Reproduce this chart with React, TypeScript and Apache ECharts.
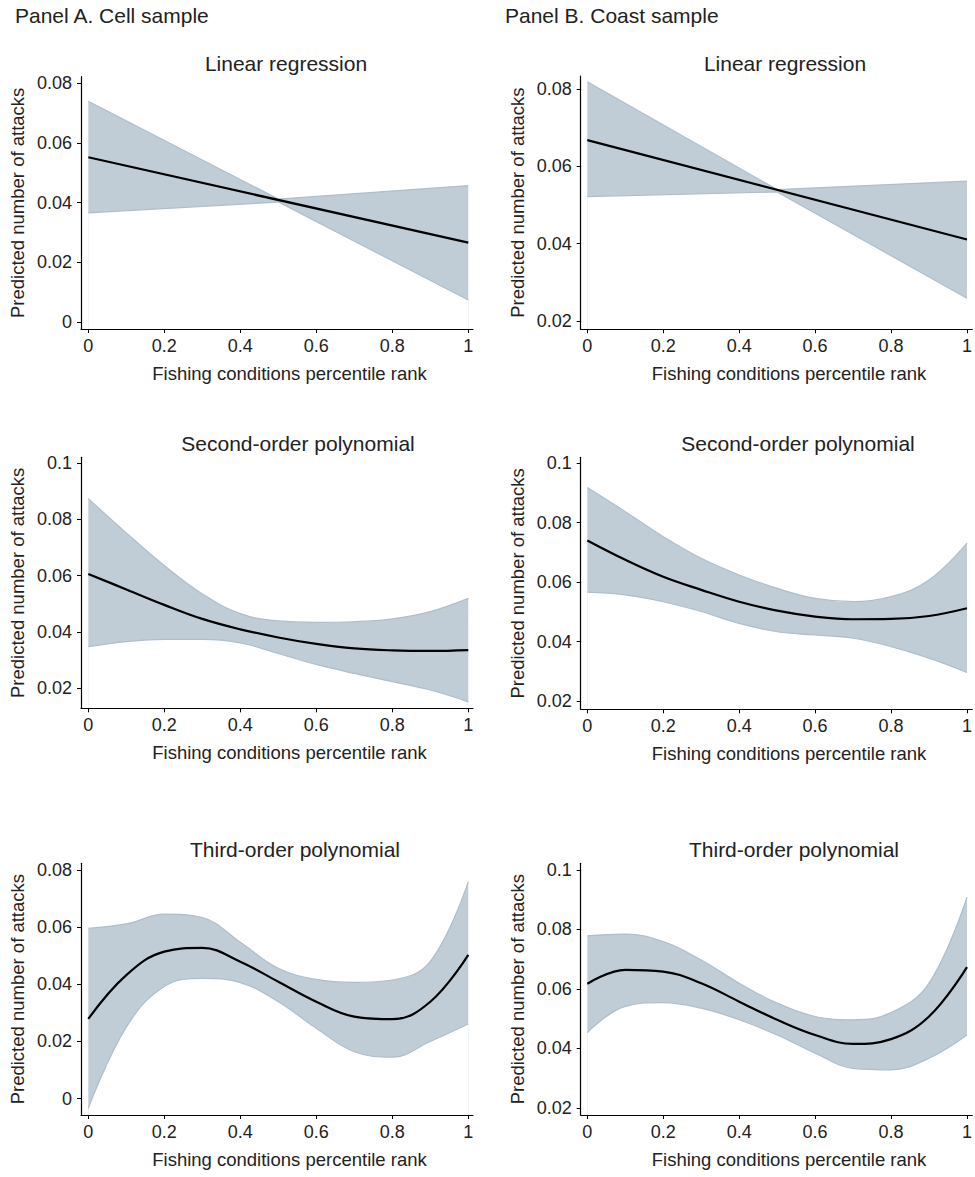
import React, { useEffect, useRef } from "react";
import * as echarts from "echarts";

// ---------- data ----------
const xFitLinear = [0, 1];
const xBandLinear = [0, 0.5, 1];
const xPoly = [0, 0.1, 0.2, 0.3, 0.4, 0.5, 0.6, 0.7, 0.8, 0.9, 1];

const xTicks = [0, 0.2, 0.4, 0.6, 0.8, 1];
const yTicksA1 = [0, 0.02, 0.04, 0.06, 0.08];
const yTicksB1 = [0.02, 0.04, 0.06, 0.08];
const yTicksPoly = [0.02, 0.04, 0.06, 0.08, 0.1];
const yTicksA3 = [0, 0.02, 0.04, 0.06, 0.08];

// Panel A (cell sample)
const cellLinearFit = [0.0552, 0.0266];
const cellLinearUpper = [0.074, 0.0412, 0.0457];
const cellLinearLower = [0.0366, 0.0402, 0.0074];

const cellQuadFit = [0.0606, 0.0551, 0.0496, 0.0446, 0.0409, 0.038, 0.0357, 0.0341, 0.0334, 0.0332, 0.0335];
const cellQuadUpper = [0.0874, 0.0752, 0.0636, 0.0535, 0.0465, 0.0439, 0.0434, 0.0436, 0.0446, 0.0472, 0.0519];
const cellQuadLower = [0.0347, 0.0365, 0.0373, 0.0373, 0.0361, 0.0323, 0.0284, 0.0252, 0.0223, 0.0193, 0.0151];

const cellCubicFit = [0.0279, 0.0432, 0.0514, 0.0527, 0.0479, 0.0409, 0.0339, 0.0287, 0.0278, 0.0339, 0.0503];
const cellCubicUpper = [0.0596, 0.0611, 0.0645, 0.0633, 0.0547, 0.0456, 0.0417, 0.0407, 0.0415, 0.048, 0.0759];
const cellCubicLower = [-0.0034, 0.025, 0.0392, 0.0421, 0.0406, 0.0339, 0.0246, 0.0164, 0.0145, 0.02, 0.0261];

// Panel B (coast sample)
const coastLinearFit = [0.0668, 0.0411];
const coastLinearUpper = [0.0819, 0.054, 0.0562];
const coastLinearLower = [0.0522, 0.0534, 0.0259];

const coastQuadFit = [0.074, 0.0675, 0.0618, 0.0574, 0.0534, 0.0504, 0.0484, 0.0475, 0.0476, 0.0486, 0.0512];
const coastQuadUpper = [0.0918, 0.0837, 0.0753, 0.068, 0.0624, 0.0579, 0.0545, 0.0534, 0.0551, 0.0607, 0.0731];
const coastQuadLower = [0.0566, 0.0557, 0.0534, 0.0501, 0.0461, 0.0433, 0.0422, 0.0411, 0.0383, 0.0344, 0.0296];

const coastCubicFit = [0.0617, 0.0664, 0.0658, 0.0619, 0.0557, 0.0496, 0.0445, 0.0415, 0.0431, 0.0507, 0.0673];
const coastCubicUpper = [0.0778, 0.0784, 0.0759, 0.0697, 0.0619, 0.0552, 0.0507, 0.0496, 0.052, 0.0619, 0.0908];
const coastCubicLower = [0.0453, 0.0541, 0.0554, 0.0535, 0.0496, 0.0445, 0.0384, 0.0333, 0.0328, 0.0367, 0.0445];

const panelHeaders = ["Panel A. Cell sample", "Panel B. Coast sample"];
const subTitles = ["Linear regression", "Second-order polynomial", "Third-order polynomial"];
const xAxisTitle = "Fishing conditions percentile rank";
const yAxisTitle = "Predicted number of attacks";

// ---------- styling / layout ----------
const FONT = "'Liberation Sans', Arial, Helvetica, sans-serif";
const TEXT = "#222222";
const BAND_FILL = "#c1cdd6";
const BAND_EDGE = "#aebecb";

const colLeft = [81, 580.7];
const colXMin = [-0.0192, -0.0174];
const GRID_W = 392;
const PX_PER_X = 380;

const panels = [
  { col: 0, top: 76.7, bottom: 329, ymin: -0.00234, ymax: 0.0822, yTicks: yTicksA1, xFit: xFitLinear, fit: cellLinearFit, xBand: xBandLinear, upper: cellLinearUpper, lower: cellLinearLower, smooth: false, title: subTitles[0], tx: 286, ty: 63 },
  { col: 1, top: 76, bottom: 329.3, ymin: 0.01785, ymax: 0.0834, yTicks: yTicksB1, xFit: xFitLinear, fit: coastLinearFit, xBand: xBandLinear, upper: coastLinearUpper, lower: coastLinearLower, smooth: false, title: subTitles[0], tx: 785, ty: 63 },
  { col: 0, top: 457.3, bottom: 708.3, ymin: 0.0128, ymax: 0.1021, yTicks: yTicksPoly, xFit: xPoly, fit: cellQuadFit, xBand: xPoly, upper: cellQuadUpper, lower: cellQuadLower, smooth: true, title: subTitles[1], tx: 298, ty: 443.5 },
  { col: 1, top: 457.3, bottom: 709.3, ymin: 0.0172, ymax: 0.102, yTicks: yTicksPoly, xFit: xPoly, fit: coastQuadFit, xBand: xPoly, upper: coastQuadUpper, lower: coastQuadLower, smooth: true, title: subTitles[1], tx: 798, ty: 443.5 },
  { col: 0, top: 863.3, bottom: 1115, ymin: -0.0057, ymax: 0.0823, yTicks: yTicksA3, xFit: xPoly, fit: cellCubicFit, xBand: xPoly, upper: cellCubicUpper, lower: cellCubicLower, smooth: true, title: subTitles[2], tx: 295, ty: 849 },
  { col: 1, top: 863.3, bottom: 1115, ymin: 0.0176, ymax: 0.1022, yTicks: yTicksPoly, xFit: xPoly, fit: coastCubicFit, xBand: xPoly, upper: coastCubicUpper, lower: coastCubicLower, smooth: true, title: subTitles[2], tx: 794, ty: 849 },
];

const fmt = (v: number) => String(parseFloat(Number(v).toFixed(3)));

function buildOption() {
  const grid: any[] = [];
  const xAxis: any[] = [];
  const yAxis: any[] = [];
  const series: any[] = [];
  const graphic: any[] = [];

  panels.forEach((p, i) => {
    const xmin = colXMin[p.col];
    grid.push({ left: colLeft[p.col], top: p.top, width: GRID_W, height: p.bottom - p.top, containLabel: false });
    xAxis.push({
      type: "value",
      gridIndex: i,
      min: xmin,
      max: xmin + GRID_W / PX_PER_X,
      z: 10,
      splitLine: { show: false },
      axisLine: { show: true, onZero: false, lineStyle: { color: "#000", width: 1.2 } },
      axisTick: { show: true, length: 4, customValues: xTicks, lineStyle: { color: "#000", width: 1 } },
      axisLabel: { customValues: xTicks, formatter: fmt, color: TEXT, fontSize: 18, fontFamily: FONT, margin: 8 },
      name: xAxisTitle,
      nameLocation: "middle",
      nameGap: 35,
      nameTextStyle: { color: TEXT, fontSize: 18.5, fontFamily: FONT, padding: [0, 0, 0, 25] },
    });
    yAxis.push({
      type: "value",
      gridIndex: i,
      min: p.ymin,
      max: p.ymax,
      z: 10,
      splitLine: { show: false },
      axisLine: { show: true, onZero: false, lineStyle: { color: "#000", width: 1.2 } },
      axisTick: { show: true, length: 4, customValues: p.yTicks, lineStyle: { color: "#000", width: 1 } },
      axisLabel: { customValues: p.yTicks, formatter: fmt, color: TEXT, fontSize: 18, fontFamily: FONT, margin: 9 },
      name: yAxisTitle,
      nameLocation: "middle",
      nameGap: 54,
      nameTextStyle: { color: TEXT, fontSize: 18.5, fontFamily: FONT },
    });

    const sm = p.smooth ? 0.4 : false;
    // upper bound: filled down to the axis floor with band colour
    series.push({
      type: "line",
      xAxisIndex: i,
      yAxisIndex: i,
      data: p.xBand.map((x, k) => [x, p.upper[k]]),
      showSymbol: false,
      symbol: "none",
      smooth: sm,
      lineStyle: { color: BAND_EDGE, width: 1.2 },
      areaStyle: { color: BAND_FILL, opacity: 1, origin: "start" },
      z: 2,
      silent: true,
    });
    // lower bound: white fill below it masks the part of the band under the lower edge
    series.push({
      type: "line",
      xAxisIndex: i,
      yAxisIndex: i,
      data: p.xBand.map((x, k) => [x, p.lower[k]]),
      showSymbol: false,
      symbol: "none",
      smooth: sm,
      lineStyle: { color: BAND_EDGE, width: 1.2 },
      areaStyle: { color: "#ffffff", opacity: 1, origin: "start" },
      z: 3,
      silent: true,
    });
    series.push({
      type: "line",
      xAxisIndex: i,
      yAxisIndex: i,
      data: p.xFit.map((x, k) => [x, p.fit[k]]),
      showSymbol: false,
      symbol: "none",
      smooth: sm,
      lineStyle: { color: "#000", width: 2.2 },
      z: 4,
      silent: true,
    });

    graphic.push({
      type: "text",
      x: p.tx,
      y: p.ty,
      style: { text: p.title, fill: TEXT, font: `21px ${FONT}`, textAlign: "center", textVerticalAlign: "middle", verticalAlign: "middle" },
    });
  });

  graphic.push({
    type: "text",
    x: 15,
    y: 15,
    style: { text: panelHeaders[0], fill: TEXT, font: `21px ${FONT}`, textAlign: "left", textVerticalAlign: "middle", verticalAlign: "middle" },
  });
  graphic.push({
    type: "text",
    x: 505,
    y: 15,
    style: { text: panelHeaders[1], fill: TEXT, font: `21px ${FONT}`, textAlign: "left", textVerticalAlign: "middle", verticalAlign: "middle" },
  });

  return {
    animation: false,
    backgroundColor: "#ffffff",
    textStyle: { fontFamily: FONT },
    grid,
    xAxis,
    yAxis,
    series,
    graphic,
  };
}

export default function App() {
  const ref = useRef<HTMLDivElement>(null);
  useEffect(() => {
    if (!ref.current) return;
    const chart = echarts.init(ref.current, null, { renderer: "svg" });
    chart.setOption(buildOption() as any);
    return () => chart.dispose();
  }, []);
  return (
    <div
      ref={ref}
      style={{ position: "absolute", left: 0, top: 0, width: 975, height: 1177, background: "#fff" }}
    />
  );
}
